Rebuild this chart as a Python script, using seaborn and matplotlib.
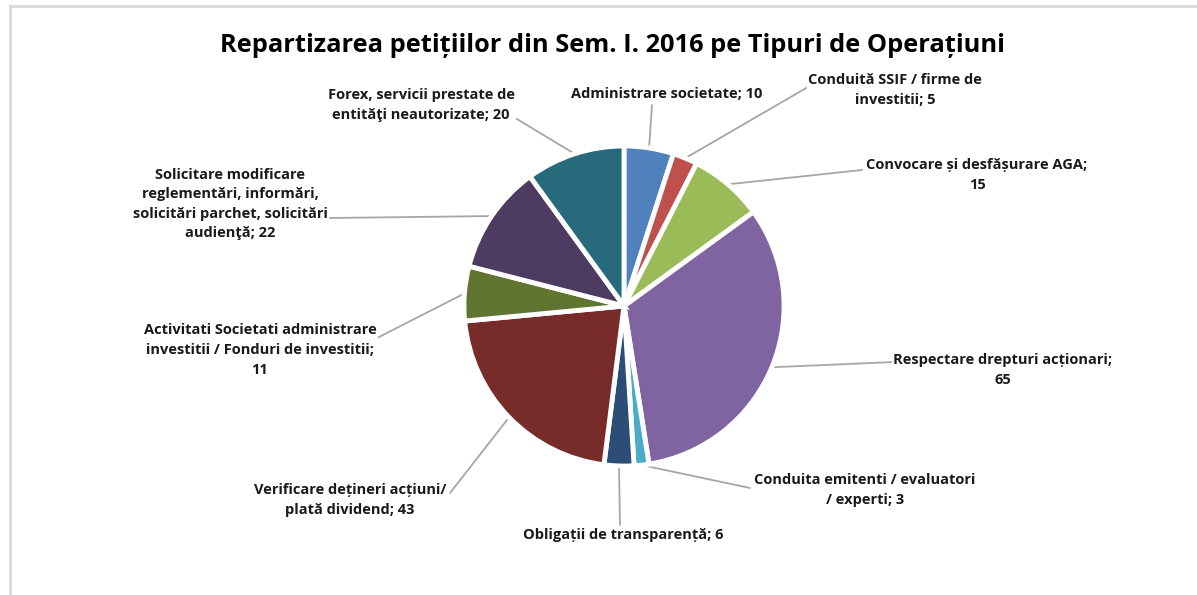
import numpy as np
import matplotlib.pyplot as plt
import seaborn as sns

# Data
categories = [
    "Administrare societate",
    "Conduită SSIF / firme de\ninvestitii",
    "Convocare și desfășurare AGA;\n",
    "Respectare drepturi acționari;\n",
    "Conduita emitenti / evaluatori\n/ experti",
    "Obligații de transparență",
    "Verificare dețineri acțiuni/\nplată dividend",
    "Activitati Societati administrare\ninvestitii / Fonduri de investitii;\n",
    "Solicitare modificare\nreglementări, informări,\nsolicitări parchet, solicitări\naudienţă",
    "Forex, servicii prestate de\nentităţi neautorizate",
]
values = [10, 5, 15, 65, 3, 6, 43, 11, 22, 20]
colors = ["#4F81BD", "#C0504D", "#9BBB59", "#8064A2", "#4BACC6",
          "#2C4D75", "#772C2A", "#5F7530", "#4D3B62", "#276A7C"]
explode = [0.02, 0.02, 0.03, 0.05, 0.03, 0.02, 0.03, 0.05, 0.03, 0.02]

# label text positions (pixel coords, y from top)
label_pos = [(667, 94), (895, 90), (977, 175), (1003, 370), (865, 490),
             (623, 535), (350, 500), (260, 350), (230, 204), (421, 105)]
# where the leader line meets the label
line_end = [(652, 105), (808, 87), (862, 170), (895, 362), (750, 488),
            (620, 525), (450, 493), (330, 362), (330, 218), (512, 116)]

sns.set_theme(style="white")
plt.rcParams["font.family"] = ["Open Sans", "DejaVu Sans"]

W, H = 1197, 595
fig = plt.figure(figsize=(W / 100, H / 100), dpi=100)
ax = fig.add_axes([0, 0, 1, 1])

cx, cy, r = 624, H - 306, 160
wedges, _ = ax.pie(values, colors=colors, startangle=90, counterclock=False,
                   center=(cx, cy), radius=r, explode=explode,
                   wedgeprops=dict(edgecolor="white", linewidth=3.5),
                   frame=True)
ax.set_xlim(0, W)
ax.set_ylim(0, H)
ax.set_aspect("auto")
ax.axis("off")

# leader lines and labels
for w, val, cat, (lx, ly), (ex, ey) in zip(wedges, values, categories, label_pos, line_end):
    th = np.deg2rad((w.theta1 + w.theta2) / 2)
    wx, wy = w.center
    start = (wx + w.r * np.cos(th), wy + w.r * np.sin(th))
    ax.plot([start[0], ex], [start[1], H - ey], color="#A6A6A6", lw=1.3, zorder=0)
    if cat.endswith("\n"):
        txt = f"{cat}{val}"
    else:
        txt = f"{cat}; {val}"
    ax.text(lx, H - ly, txt, ha="center", va="center", fontsize=10.5,
            fontweight="bold", color="#1a1a1a", linespacing=1.5,
            bbox=dict(facecolor="white", edgecolor="none", pad=1))

# title
fig.text(612 / W, (H - 45) / H, "Repartizarea petițiilor din Sem. I. 2016 pe Tipuri de Operațiuni",
         ha="center", va="center", fontsize=18.3, fontweight="bold", color="black")

# chart frame
fig.add_artist(plt.Line2D([10 / W, 10 / W], [0, (H - 6) / H], color="#D9D9D9", lw=2))
fig.add_artist(plt.Line2D([10 / W, 1], [(H - 6) / H, (H - 6) / H], color="#D9D9D9", lw=2))

fig.savefig("out.png", dpi=100)
